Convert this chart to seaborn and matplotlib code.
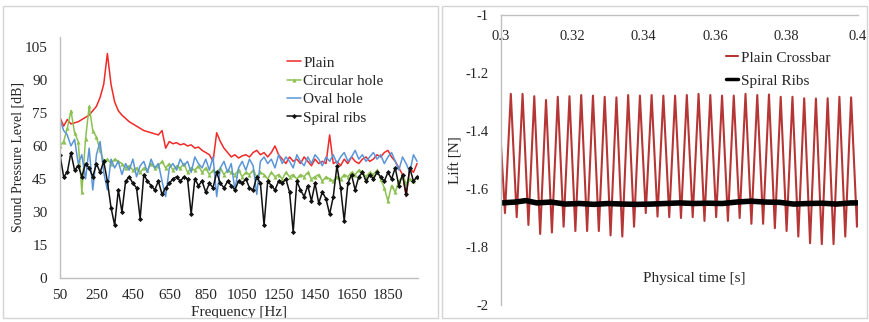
import numpy as np
import pandas as pd
import matplotlib
matplotlib.use("Agg")
import matplotlib.pyplot as plt
from matplotlib.patches import Rectangle
import seaborn as sns

# ---------------- data: noise spectra ----------------
freq_hz = np.arange(50, 2011, 20)

spl_plain = [73, 69, 72, 70, 70.5, 71, 72, 73, 74, 76, 78, 82, 88, 102, 88, 80, 76, 74, 72.5, 71,
             70, 69, 68, 67, 66.5, 66, 65.5, 65, 67, 59, 62, 61, 61.5, 60.5, 61, 60, 60.5, 59, 59.5, 58,
             57, 56, 53, 66, 62, 59, 57, 55, 56, 54.5, 55.5, 56, 55, 57, 58, 56, 57, 55, 57, 60,
             56, 54, 52, 55, 53, 54, 52, 55, 53, 51, 54, 52, 53, 52, 65, 52, 53, 51, 54, 52,
             55, 53, 52, 54, 55, 53, 54, 56, 55, 57, 58, 55, 53, 50, 47, 37, 50, 48, 52]

spl_circular = [60, 62, 68, 76, 66, 62, 39, 63, 78, 67, 64, 58, 53, 54, 52, 54, 53, 52, 50, 51,
                49, 50, 48, 50, 49, 52, 50, 51, 53, 50, 52, 49, 51, 50, 52, 48, 50, 49, 51, 48,
                50, 47, 49, 48, 50, 47, 49, 48, 47, 49, 46, 48, 47, 49, 46, 48, 47, 45, 48, 46,
                47, 45, 48, 46, 47, 45, 47, 46, 48, 45, 46, 47, 44, 46, 45, 44, 46, 45, 47, 46,
                48, 47, 49, 48, 46, 48, 47, 49, 45, 41, 35, 42, 39, 44, 46, 43, 45, 44, 46]

spl_oval = [72, 67, 65, 60, 63, 52, 56, 45, 59, 40, 56, 62, 48, 40, 54, 50, 53, 47, 52, 49,
            54, 46, 51, 53, 48, 54, 50, 52, 44, 37, 50, 52, 49, 54, 51, 53, 48, 55, 52, 50,
            54, 49, 55, 37, 50, 53, 48, 52, 40, 50, 53, 49, 54, 51, 38, 53, 55, 52, 54, 50,
            56, 52, 55, 53, 50, 56, 53, 51, 55, 52, 56, 54, 51, 55, 53, 56, 52, 55, 57, 53,
            55, 58, 54, 56, 53, 55, 57, 54, 56, 52, 55, 57, 53, 49, 55, 52, 48, 56, 53]

spl_spiral = [56, 46, 48, 57, 49, 51, 46, 52, 50, 46, 52, 48, 53, 44, 32, 24, 40, 30, 44, 46,
              43, 41, 27, 47, 44, 42, 40, 44, 38, 41, 43, 45, 46, 44, 46, 45, 29, 45, 42, 44,
              39, 43, 41, 48, 43, 41, 44, 42, 40, 44, 43, 45, 41, 40, 46, 43, 24, 44, 42, 40,
              44, 43, 45, 39, 21, 44, 40, 37, 42, 35, 43, 34, 39, 36, 29, 37, 51, 41, 26, 43,
              47, 40, 46, 48, 44, 47, 45, 48, 46, 44, 48, 45, 50, 42, 47, 38, 50, 44, 46]

freq_ticks = [50, 250, 450, 650, 850, 1050, 1250, 1450, 1650, 1850]
spl_ticks = [0, 15, 30, 45, 60, 75, 90, 105]

# ---------------- data: lift time histories ----------------
lift_start = (0.300, -1.450)
lift_end = (0.400, -1.660)

peak_t = [0.30275, 0.30604, 0.30932, 0.31261, 0.31590, 0.31918, 0.32247, 0.32576, 0.32905, 0.33233,
          0.33562, 0.33891, 0.34219, 0.34548, 0.34877, 0.35205, 0.35534, 0.35863, 0.36192, 0.36520,
          0.36849, 0.37178, 0.37506, 0.37835, 0.38164, 0.38493, 0.38821, 0.39150, 0.39479, 0.39807]
peak_lift = [-1.272, -1.272, -1.280, -1.293, -1.282, -1.280, -1.276, -1.278, -1.282, -1.284,
             -1.276, -1.278, -1.276, -1.278, -1.278, -1.276, -1.272, -1.276, -1.278, -1.278,
             -1.272, -1.276, -1.274, -1.282, -1.282, -1.287, -1.288, -1.287, -1.282, -1.284]

trough_t = [0.30111, 0.30440, 0.30768, 0.31097, 0.31426, 0.31754, 0.32083, 0.32412, 0.32740, 0.33069,
            0.33398, 0.33727, 0.34055, 0.34384, 0.34713, 0.35041, 0.35370, 0.35699, 0.36027, 0.36356,
            0.36685, 0.37014, 0.37342, 0.37671, 0.38000, 0.38328, 0.38657, 0.38986, 0.39315, 0.39643,
            0.39971]
trough_lift = [-1.683, -1.697, -1.724, -1.755, -1.750, -1.730, -1.745, -1.745, -1.745, -1.760,
               -1.764, -1.730, -1.683, -1.695, -1.697, -1.700, -1.697, -1.710, -1.697, -1.710,
               -1.700, -1.720, -1.720, -1.735, -1.745, -1.764, -1.787, -1.790, -1.790, -1.764,
               -1.730]

ribs_t = [0.300, 0.304, 0.307, 0.310, 0.314, 0.318, 0.322, 0.326, 0.330, 0.334, 0.338, 0.342,
          0.346, 0.350, 0.354, 0.358, 0.362, 0.366, 0.370, 0.374, 0.378, 0.382, 0.386, 0.390,
          0.394, 0.398, 0.400]
ribs_lift = [-1.648, -1.645, -1.640, -1.648, -1.645, -1.652, -1.650, -1.653, -1.650, -1.652,
             -1.653, -1.652, -1.650, -1.648, -1.650, -1.649, -1.650, -1.645, -1.642, -1.645,
             -1.646, -1.652, -1.650, -1.649, -1.652, -1.648, -1.648]

time_ticks = [0.30, 0.32, 0.34, 0.36, 0.38, 0.40]
time_labels = ["0.3", "0.32", "0.34", "0.36", "0.38", "0.4"]
lift_ticks = [-2.0, -1.8, -1.6, -1.4, -1.2, -1.0]
lift_labels = ["-2", "-1.8", "-1.6", "-1.4", "-1.2", "-1"]

# plain crossbar trace: start, alternating trough/peak, end
plain_t = [lift_start[0]]
plain_lift = [lift_start[1]]
for k in range(len(peak_t)):
    plain_t += [trough_t[k], peak_t[k]]
    plain_lift += [trough_lift[k], peak_lift[k]]
plain_t += [trough_t[-1], lift_end[0]]
plain_lift += [trough_lift[-1], lift_end[1]]

# ---------------- style ----------------
sns.set_theme(style="white")
plt.rcParams["font.family"] = ["Liberation Serif", "DejaVu Serif"]
plt.rcParams["font.size"] = 10.5
TXT = "#262626"
SPINE = "#bfbfbf"

W, H = 870, 322
fig = plt.figure(figsize=(W / 100, H / 100), dpi=100)
fig.patch.set_facecolor("white")


def fig_box(x0, y0, x1, y1):
    return [x0 / W, 1 - y1 / H, (x1 - x0) / W, (y1 - y0) / H]


# panel frames
for (x0, y0, x1, y1) in [(3, 6, 438, 318), (442, 6, 867, 318)]:
    fig.patches.append(Rectangle((x0 / W, 1 - y1 / H), (x1 - x0) / W, (y1 - y0) / H,
                                 transform=fig.transFigure, fill=False,
                                 edgecolor="#d4d4d4", lw=1.0))

# ---------------- left: sound pressure level spectra ----------------
ax1 = fig.add_axes(fig_box(60, 37, 418, 278))
spec = pd.DataFrame({"freq": freq_hz, "Plain": spl_plain, "Circular hole": spl_circular,
                     "Oval hole": spl_oval, "Spiral ribs": spl_spiral})

sns.lineplot(data=spec, x="freq", y="Plain", ax=ax1, color="#f02a28", lw=1.1,
             label="Plain", errorbar=None)
sns.lineplot(data=spec, x="freq", y="Circular hole", ax=ax1, color="#8cc152", lw=1.1,
             marker="^", markersize=3, markeredgewidth=0, label="Circular hole", errorbar=None)
sns.lineplot(data=spec, x="freq", y="Oval hole", ax=ax1, color="#5b95d8", lw=1.1,
             label="Oval hole", errorbar=None)
sns.lineplot(data=spec, x="freq", y="Spiral ribs", ax=ax1, color="#111111", lw=1.1,
             marker="D", markersize=2.6, markeredgewidth=0, label="Spiral ribs", errorbar=None)

ax1.set_xlim(50, 2015)
ax1.set_ylim(0, 109.5)
ax1.set_xticks(freq_ticks)
ax1.set_yticks(spl_ticks)
ax1.tick_params(axis="both", length=0, labelsize=11, colors=TXT)
ax1.tick_params(axis="x", pad=8)
ax1.tick_params(axis="y", pad=9)
for s in ["top", "right"]:
    ax1.spines[s].set_visible(False)
for s in ["left", "bottom"]:
    ax1.spines[s].set_color(SPINE)
    ax1.spines[s].set_linewidth(1.0)
ax1.set_xlabel("Frequency [Hz]", fontsize=11, color=TXT)
ax1.set_ylabel("Sound Pressure Level [dB]", fontsize=10, color=TXT)
ax1.xaxis.set_label_coords(0.5, -0.118)
ax1.yaxis.set_label_coords(-0.10, 0.5)
ax1.legend(loc="upper left", bbox_to_anchor=(287 / W, 1 - 56 / H),
           bbox_transform=fig.transFigure, frameon=False, fontsize=11,
           handlelength=0.9, handletextpad=0.15, labelspacing=0.3,
           borderpad=0, borderaxespad=0, markerscale=1.0)

# ---------------- right: lift time histories ----------------
ax2 = fig.add_axes(fig_box(501, 15, 858, 305))
sns.lineplot(x=plain_t, y=plain_lift, ax=ax2, color="#b63636", lw=1.5,
             label="Plain Crossbar", errorbar=None, sort=False)
sns.lineplot(x=ribs_t, y=ribs_lift, ax=ax2, color="#000000", lw=4.0,
             label="Spiral Ribs", errorbar=None, sort=False)

ax2.set_xlim(0.3, 0.4)
ax2.set_ylim(-2.0, -1.0)
ax2.set_xticks(time_ticks)
ax2.set_xticklabels(time_labels)
ax2.set_yticks(lift_ticks)
ax2.set_yticklabels(lift_labels)
ax2.xaxis.set_ticks_position("top")
ax2.tick_params(axis="x", length=0, labeltop=True, labelbottom=False, pad=-20,
                labelsize=10.5, colors=TXT)
ax2.tick_params(axis="y", length=0, pad=9, labelsize=10.5, colors=TXT)
for s in ["bottom", "right"]:
    ax2.spines[s].set_visible(False)
for s in ["left", "top"]:
    ax2.spines[s].set_color(SPINE)
    ax2.spines[s].set_linewidth(1.0)
ax2.xaxis.set_label_position("bottom")
ax2.set_xlabel("Physical time [s]", fontsize=11, color=TXT)
ax2.xaxis.set_label_coords(0.54, 0.115)
ax2.set_ylabel("Lift [N]", fontsize=11, color=TXT)
ax2.yaxis.set_label_coords(-0.108, 0.5)
leg2 = ax2.legend(loc="upper left", bbox_to_anchor=(726 / W, 1 - 51 / H),
                  bbox_transform=fig.transFigure, frameon=False, fontsize=11,
                  handlelength=0.8, handletextpad=0.15, labelspacing=0.6,
                  borderpad=0, borderaxespad=0)
leg2.get_lines()[0].set_linewidth(1.5)
leg2.get_lines()[1].set_linewidth(2.5)

fig.savefig("out.png", dpi=100, facecolor="white")
